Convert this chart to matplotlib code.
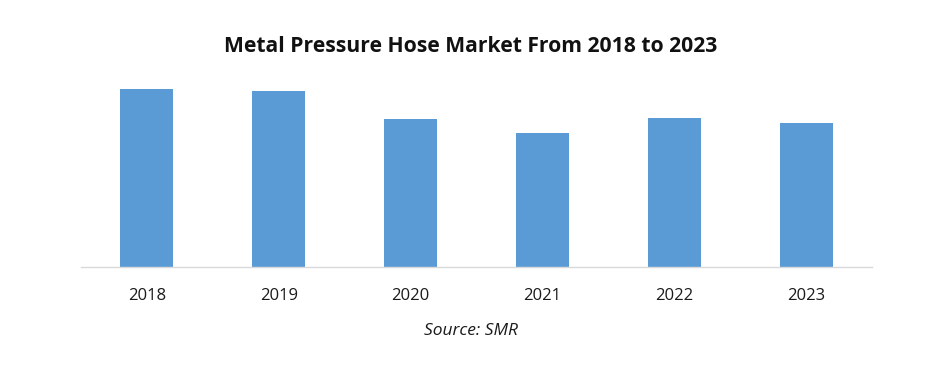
import matplotlib
matplotlib.use("Agg")
from matplotlib import pyplot as plt

years = ["2018", "2019", "2020", "2021", "2022", "2023"]
values = [178, 176, 148, 134, 149, 144]

plt.rcParams['font.family'] = ['Open Sans', 'DejaVu Sans']

fig = plt.figure(figsize=(9.41, 3.68), dpi=100)
ax = fig.add_axes([0.086, 0.2745, 0.841, 0.5435])
ax.bar(range(len(years)), values, width=0.4, color="#5B9BD5")
ax.set_xlim(-0.5, len(years) - 0.5)
ax.set_ylim(0, 200)
ax.set_xticks(range(len(years)))
ax.set_xticklabels(years, fontsize=12, color="#1a1a1a")
ax.tick_params(axis="x", length=0, pad=15)
ax.set_yticks([])
for s in ["top", "right", "left"]:
    ax.spines[s].set_visible(False)
ax.spines["bottom"].set_color("#D9D9D9")
ax.spines["bottom"].set_linewidth(1)

fig.text(0.5, 0.875, "Metal Pressure Hose Market From 2018 to 2023",
         ha="center", va="center", fontsize=15.2, fontweight="bold", color="#111111")
fig.text(0.5, 0.1, "Source: SMR", ha="center", va="center",
         fontsize=12.5, style="italic", color="#1a1a1a")

fig.savefig("out.png", dpi=100)
